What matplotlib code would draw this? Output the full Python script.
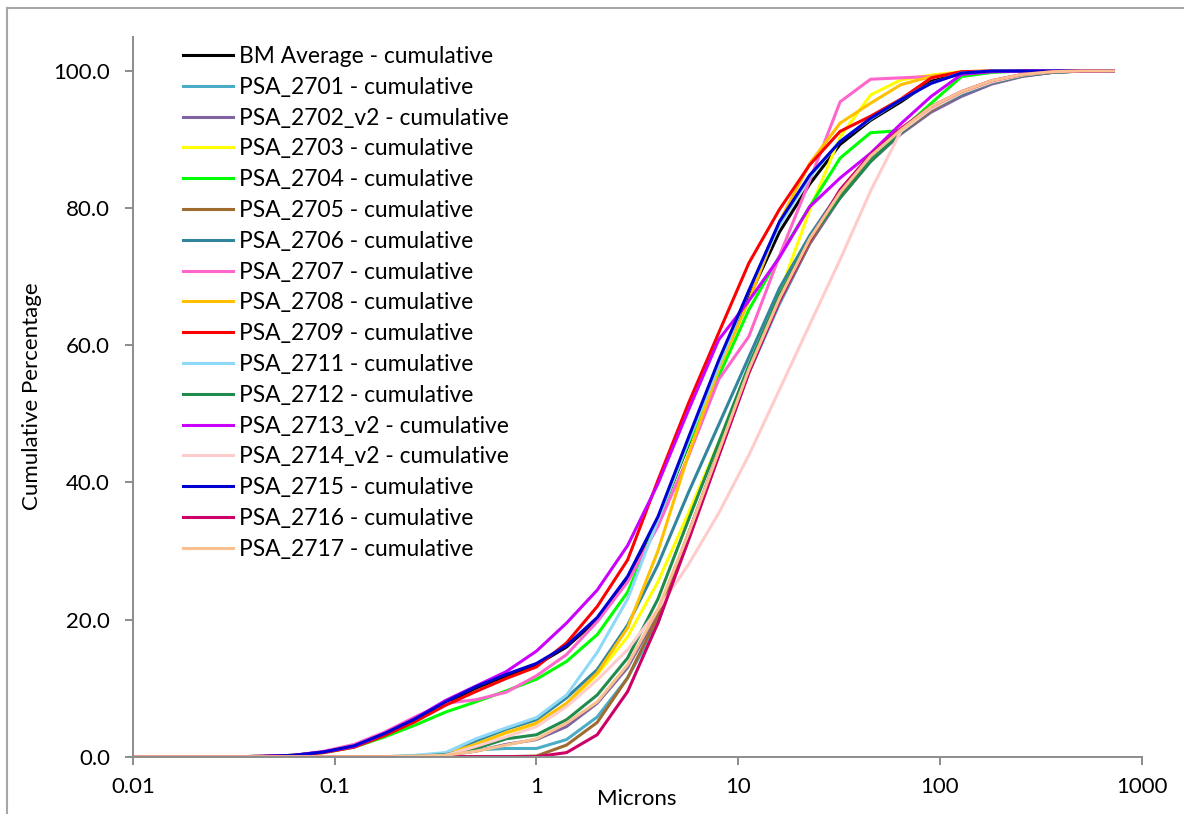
import matplotlib
matplotlib.use("Agg")
import matplotlib.pyplot as plt
from matplotlib.lines import Line2D

plt.rcParams['font.family'] = ['Lato', 'DejaVu Sans']

# particle size (microns)
sizes = [0.0078, 0.011, 0.0156, 0.0221, 0.0313, 0.0442, 0.0625, 0.0884, 0.125, 0.177,
         0.25, 0.354, 0.5, 0.707, 1.0, 1.41, 2.0, 2.83, 4.0, 5.66,
         8.0, 11.3, 16.0, 22.6, 32.0, 45.3, 64.0, 90.5, 128.0, 181.0,
         256.0, 362.0, 512.0, 724.0]

bm_avg = [0, 0, 0, 0, 0, 0.05, 0.2, 0.7, 1.6, 3.3,
          5.4, 7.8, 10.0, 11.8, 13.4, 16.0, 20.0, 26.0, 34.5, 45.5,
          57.0, 67.0, 76.5, 83.5, 89.3, 92.8, 95.5, 98.5, 99.6, 99.9,
          100, 100, 100, 100]
psa_2701 = [0, 0, 0, 0, 0, 0, 0, 0, 0, 0,
            0.05, 0.3, 1.0, 1.2, 1.2, 2.5, 5.8, 11.5, 19.5, 32.0,
            44.0, 56.0, 66.0, 74.8, 81.8, 87.2, 91.0, 94.3, 96.6, 98.2,
            99.3, 99.8, 100, 100]
psa_2702 = [0, 0, 0, 0, 0, 0, 0, 0, 0, 0,
            0.05, 0.2, 0.8, 1.8, 2.5, 4.4, 7.8, 13.0, 21.0, 32.5,
            44.5, 56.5, 66.3, 74.8, 81.5, 86.8, 90.8, 94.0, 96.3, 98.1,
            99.2, 99.8, 100, 100]
psa_2703 = [0, 0, 0, 0, 0, 0, 0, 0, 0, 0,
            0.1, 0.4, 1.8, 3.5, 4.7, 7.6, 12.0, 17.5, 25.5, 35.5,
            45.8, 56.0, 67.5, 79.7, 90.4, 96.5, 98.7, 99.4, 99.9, 100,
            100, 100, 100, 100]
psa_2704 = [0, 0, 0, 0, 0, 0.05, 0.2, 0.6, 1.4, 2.9,
            4.6, 6.5, 8.0, 9.6, 11.3, 13.9, 17.8, 24.0, 34.5, 45.7,
            55.5, 65.2, 73.0, 80.2, 87.3, 91.0, 91.3, 95.3, 99.2, 99.8,
            100, 100, 100, 100]
psa_2705 = [0, 0, 0, 0, 0, 0, 0, 0, 0, 0,
            0, 0, 0, 0, 0.1, 1.7, 5.0, 11.5, 20.5, 32.5,
            44.5, 56.5, 66.5, 75.0, 82.0, 87.3, 91.0, 94.3, 96.7, 98.3,
            99.3, 99.8, 100, 100]
psa_2706 = [0, 0, 0, 0, 0, 0, 0, 0, 0, 0,
            0.1, 0.4, 2.3, 4.0, 5.4, 8.6, 12.7, 19.2, 28.0, 38.5,
            48.4, 58.3, 68.3, 76.0, 82.5, 87.5, 91.2, 94.5, 96.6, 98.3,
            99.3, 99.8, 100, 100]
psa_2707 = [0, 0, 0, 0, 0, 0.05, 0.2, 0.8, 1.8, 3.6,
            5.8, 7.8, 8.3, 9.4, 11.8, 14.9, 19.7, 25.5, 33.6, 43.8,
            55.0, 61.3, 73.0, 84.0, 95.5, 98.8, 99.0, 99.2, 99.8, 100,
            100, 100, 100, 100]
psa_2708 = [0, 0, 0, 0, 0, 0, 0, 0, 0, 0,
            0.1, 0.4, 1.8, 3.5, 4.9, 7.8, 12.2, 18.8, 30.0, 44.0,
            56.5, 66.5, 78.0, 86.5, 92.4, 95.3, 98.0, 99.2, 99.8, 100,
            100, 100, 100, 100]
psa_2709 = [0, 0, 0, 0, 0, 0.05, 0.2, 0.6, 1.4, 3.1,
            5.1, 7.5, 9.5, 11.4, 13.1, 16.6, 21.9, 28.7, 40.3, 51.5,
            61.8, 72.0, 79.8, 86.3, 91.2, 93.4, 95.9, 99.0, 99.9, 100,
            100, 100, 100, 100]
psa_2711 = [0, 0, 0, 0, 0, 0, 0, 0, 0, 0,
            0.2, 0.6, 2.6, 4.2, 5.7, 9.0, 15.2, 23.0, 34.5, 46.0,
            57.0, 68.0, 77.5, 84.5, 89.8, 93.0, 95.8, 98.2, 99.7, 100,
            100, 100, 100, 100]
psa_2712 = [0, 0, 0, 0, 0, 0, 0, 0, 0, 0,
            0.05, 0.3, 1.2, 2.6, 3.2, 5.4, 9.0, 14.4, 23.0, 34.5,
            45.8, 57.1, 67.3, 75.5, 81.5, 86.8, 91.0, 94.5, 96.8, 98.4,
            99.4, 99.9, 100, 100]
psa_2713_v2 = [0, 0, 0, 0, 0, 0.05, 0.2, 0.7, 1.5, 3.4,
               5.6, 8.2, 10.3, 12.4, 15.4, 19.5, 24.3, 30.8, 39.8, 50.5,
               60.8, 66.5, 72.8, 80.2, 84.4, 88.0, 92.3, 96.3, 99.5, 99.9,
               100, 100, 100, 100]
psa_2714_v2 = [0, 0, 0, 0, 0, 0, 0, 0, 0, 0,
               0.05, 0.2, 1.5, 2.9, 4.4, 7.3, 11.2, 15.6, 21.5, 28.0,
               35.5, 44.0, 53.5, 63.0, 72.5, 82.5, 91.2, 94.5, 96.8, 98.4,
               99.4, 99.9, 100, 100]
psa_2715 = [0, 0, 0, 0, 0, 0.05, 0.2, 0.7, 1.6, 3.4,
            5.5, 8.0, 10.2, 12.0, 13.6, 16.2, 20.3, 26.3, 35.0, 46.5,
            57.8, 68.0, 78.0, 84.8, 89.7, 93.1, 95.8, 98.2, 99.7, 100,
            100, 100, 100, 100]
psa_2716 = [0, 0, 0, 0, 0, 0, 0, 0, 0, 0,
            0, 0, 0, 0, 0, 0.6, 3.2, 9.5, 19.5, 31.5,
            43.8, 56.0, 66.5, 75.3, 82.7, 87.8, 91.6, 94.8, 97.0, 98.6,
            99.5, 99.9, 100, 100]
psa_2717 = [0, 0, 0, 0, 0, 0, 0, 0, 0, 0,
            0.05, 0.2, 0.8, 1.7, 2.6, 4.9, 8.0, 13.4, 21.5, 32.5,
            44.5, 56.5, 66.8, 75.5, 82.3, 87.6, 91.4, 94.8, 97.0, 98.6,
            99.5, 99.9, 100, 100]

series_names = ["BM Average - cumulative", "PSA_2701 - cumulative", "PSA_2702_v2 - cumulative",
                "PSA_2703 - cumulative", "PSA_2704 - cumulative", "PSA_2705 - cumulative",
                "PSA_2706 - cumulative", "PSA_2707 - cumulative", "PSA_2708 - cumulative",
                "PSA_2709 - cumulative", "PSA_2711 - cumulative", "PSA_2712 - cumulative",
                "PSA_2713_v2 - cumulative", "PSA_2714_v2 - cumulative", "PSA_2715 - cumulative",
                "PSA_2716 - cumulative", "PSA_2717 - cumulative"]
series_values = [bm_avg, psa_2701, psa_2702, psa_2703, psa_2704, psa_2705, psa_2706,
                 psa_2707, psa_2708, psa_2709, psa_2711, psa_2712, psa_2713_v2,
                 psa_2714_v2, psa_2715, psa_2716, psa_2717]
series_colors = ["#000000", "#4BACC6", "#8064A2", "#FFFF00", "#00FF00", "#9E6B30",
                 "#31859C", "#FF66CC", "#FFC000", "#FF0000", "#8ED8F8", "#1F8B4C",
                 "#CC00FF", "#FFCCCC", "#0000D0", "#CC0066", "#FAC090"]

y_ticks = [0, 20, 40, 60, 80, 100]
y_tick_labels = ["0.0", "20.0", "40.0", "60.0", "80.0", "100.0"]
x_ticks = [0.01, 0.1, 1, 10, 100, 1000]
x_tick_labels = ["0.01", "0.1", "1", "10", "100", "1000"]

W, H = 1184, 814
fig = plt.figure(figsize=(W / 100, H / 100), dpi=100)
ax = fig.add_axes([133 / W, 1 - 756.7 / H, (1141.7 - 133) / W, (756.7 - 36.7) / H])

for name, vals, col in zip(series_names, series_values, series_colors):
    ax.plot(sizes, vals, color=col, lw=2.2, label=name, solid_joinstyle='miter')

ax.set_xscale('log')
ax.set_xlim(0.01, 1000)
ax.set_ylim(0, 105)
ax.set_xticks(x_ticks)
ax.set_xticklabels(x_tick_labels)
ax.minorticks_off()
ax.set_yticks(y_ticks)
ax.set_yticklabels(y_tick_labels)

axis_gray = "#8C8C8C"
for s in ['top', 'right']:
    ax.spines[s].set_visible(False)
for s in ['left', 'bottom']:
    ax.spines[s].set_color(axis_gray)
    ax.spines[s].set_linewidth(1.4)
ax.tick_params(axis='both', which='major', direction='out', length=5.5, width=1.4,
               color=axis_gray, labelsize=16, labelcolor='black')
ax.tick_params(axis='y', pad=11)
ax.tick_params(axis='x', pad=9)

fig.text(637 / W, 1 - 799 / H, "Microns", ha='center', va='center', fontsize=16)
fig.text(32 / W, 1 - 396 / H, "Cumulative Percentage", ha='center', va='center',
         rotation=90, fontsize=16)

leg = ax.legend(loc='upper left', bbox_to_anchor=(183 / W, 1 - 46 / H),
                bbox_transform=fig.transFigure, frameon=False, fontsize=16.4,
                borderpad=0, borderaxespad=0, handlelength=2.2, handletextpad=0.28,
                labelspacing=0.43)

# chart area border (partially visible)
border = "#A6A6A6"
fig.add_artist(Line2D([7 / W, 7 / W], [0, 1 - 8 / H], transform=fig.transFigure,
                      color=border, lw=1.5))
fig.add_artist(Line2D([7 / W, 1], [1 - 8 / H, 1 - 8 / H], transform=fig.transFigure,
                      color=border, lw=1.5))

fig.savefig("out.png", dpi=100)
